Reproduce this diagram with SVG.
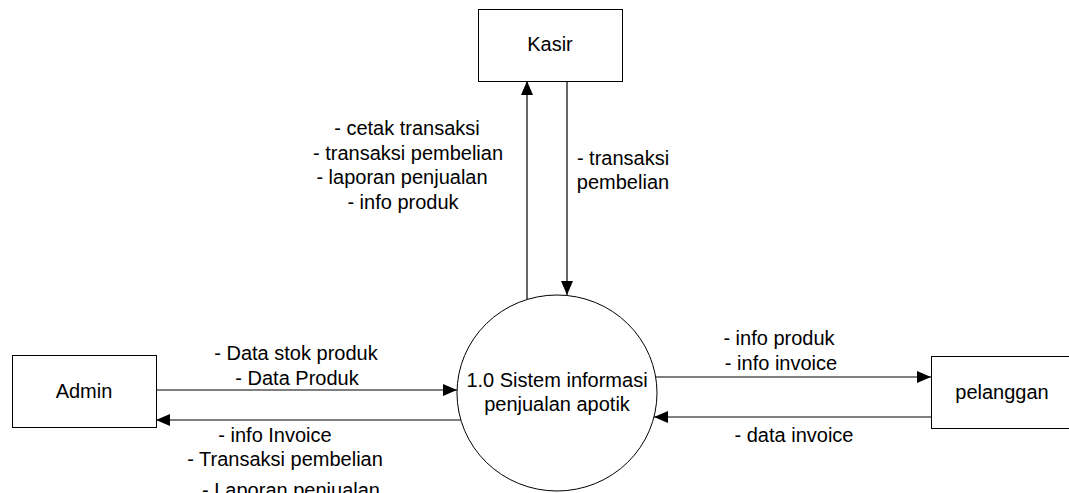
<svg xmlns="http://www.w3.org/2000/svg" width="1069" height="493" viewBox="0 0 1069 493">
<style>
.box{fill:#fff;stroke:#000;stroke-width:1}
.proc{fill:#fff;stroke:#000;stroke-width:1}
.flow{fill:none;stroke:#000;stroke-width:1.2;marker-end:url(#arr)}
text{font-family:"Liberation Sans",Arial,sans-serif;font-size:20px;fill:#000;text-anchor:middle}
</style>
<defs>
<marker id="arr" markerUnits="userSpaceOnUse" markerWidth="14" markerHeight="12" refX="14" refY="6" orient="auto">
<path d="M0,0 L14,6 L0,12 z" fill="#000"/>
</marker>
</defs>
<rect width="1069" height="493" fill="#fff"/>
<g id="connectors">
<path class="flow" d="M156,390 L457,390"/>
<path class="flow" d="M461,420 L156,420"/>
<path class="flow" d="M656,377 L931,377"/>
<path class="flow" d="M931,417 L654,417"/>
<path class="flow" d="M527,299 L527,81"/>
<path class="flow" d="M567,81 L567,295"/>
<text x="407" y="135">- cetak transaksi</text>
<text x="408" y="160">- transaksi pembelian</text>
<text x="402" y="184">- laporan penjualan</text>
<text x="403" y="209">- info produk</text>
<text x="623" y="165">- transaksi</text>
<text x="623" y="189">pembelian</text>
<text x="296" y="360">- Data stok produk</text>
<text x="297" y="385">- Data Produk</text>
<text x="275" y="442">- info Invoice</text>
<text x="285" y="466">- Transaksi pembelian</text>
<text x="291" y="497">- Laporan penjualan</text>
<text x="779" y="345">- info produk</text>
<text x="781" y="370">- info invoice</text>
<text x="794" y="442">- data invoice</text>
</g>
<g id="kasir">
<rect class="box" x="478.5" y="9.5" width="144" height="72"/>
<text x="550" y="51">Kasir</text>
</g>
<g id="admin">
<rect class="box" x="12.5" y="355.5" width="144" height="72"/>
<text x="84" y="398">Admin</text>
</g>
<g id="pelanggan">
<rect class="box" x="931.5" y="356.5" width="144" height="72"/>
<text x="1002" y="399">pelanggan</text>
</g>
<g id="proses">
<ellipse class="proc" cx="557" cy="393" rx="100" ry="98"/>
<text x="557" y="387">1.0 Sistem informasi</text>
<text x="557" y="411">penjualan apotik</text>
</g>
</svg>
